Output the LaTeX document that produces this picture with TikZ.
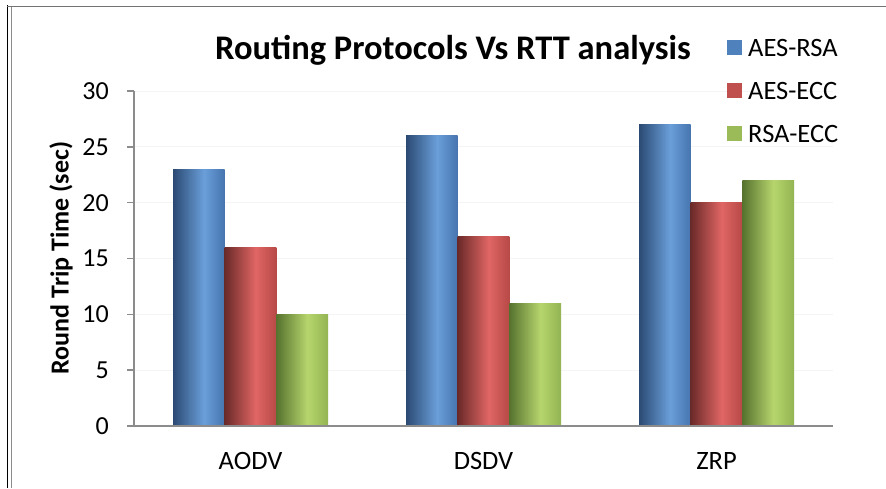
\documentclass[tikz,border=0pt]{standalone}
\usepackage{fontspec}
\setmainfont{Carlito}
\definecolor{bL}{HTML}{2B4A73}
\definecolor{bM}{HTML}{6A9FDA}
\definecolor{bR}{HTML}{4674AE}
\definecolor{rL}{HTML}{6A2A29}
\definecolor{rM}{HTML}{E06664}
\definecolor{rR}{HTML}{B64946}
\definecolor{gL}{HTML}{56722E}
\definecolor{gM}{HTML}{B6D56D}
\definecolor{gR}{HTML}{93B452}
\definecolor{bK}{HTML}{4F81BD}
\definecolor{rK}{HTML}{C0504D}
\definecolor{gK}{HTML}{9BBB59}
\definecolor{axisgray}{HTML}{8C8C8C}
\pgfdeclarehorizontalshading{blueshade}{100bp}{color(0bp)=(bL); color(25bp)=(bL); color(55bp)=(bM); color(75bp)=(bR); color(100bp)=(bR)}
\pgfdeclarehorizontalshading{redshade}{100bp}{color(0bp)=(rL); color(25bp)=(rL); color(55bp)=(rM); color(75bp)=(rR); color(100bp)=(rR)}
\pgfdeclarehorizontalshading{greenshade}{100bp}{color(0bp)=(gL); color(25bp)=(gL); color(55bp)=(gM); color(75bp)=(gR); color(100bp)=(gR)}
\tikzset{
  ticklab/.style={anchor=east, font=\fontsize{26}{26}\selectfont, inner sep=0pt},
  catlab/.style={anchor=center, font=\fontsize{26.5}{26.5}\selectfont, inner sep=0pt},
  leglab/.style={anchor=west, font=\fontsize{26.5}{26.5}\selectfont, inner sep=0pt},
  gridline/.style={draw=black!4, line width=0.8pt},
  axisline/.style={draw=axisgray, line width=2pt},
  barA/.style={shading=blueshade},
  barB/.style={shading=redshade},
  barC/.style={shading=greenshade},
}
\begin{document}
\begin{tikzpicture}[x=1pt,y=-1pt]
\useasboundingbox (0,0) rectangle (886,488);
\fill[white] (0,0) rectangle (886,488);
% frame
\draw[black, line width=1.8pt] (7.5,5) -- (7.5,488);
\draw[axisgray, line width=1pt] (11.5,6.5) -- (11.5,488);
\draw[black!55, line width=1.2pt] (7,6.3) -- (886,6.3);
% gridlines
\foreach \v in {5,10,...,30} {
  \draw[gridline] (134,{426-\v*11.1667}) -- (833,{426-\v*11.1667});
}
% bars  (zero at y=426, 11.1667 px per unit)
\foreach \cx/\a/\b/\c [count=\i] in {250.5/23/16/10, 483.5/26/17/11, 716.5/27/20/22} {
  \shade[barA] ({\cx-77.5},426) rectangle ({\cx-25.8},{426-\a*11.1667});
  \shade[barB] ({\cx-25.8},426) rectangle ({\cx+25.8},{426-\b*11.1667});
  \shade[barC] ({\cx+25.8},426) rectangle ({\cx+77.5},{426-\c*11.1667});
}
% axes
\coordinate (o) at (134,426);
\coordinate (ytop) at (134,91);
\coordinate (xend) at (833,426);
\draw[axisline] (ytop) -- (o) -- (xend);
\foreach \v in {0,5,...,30} {
  \draw[axisgray, line width=1.6pt] (127,{426-\v*11.1667}) -- (134,{426-\v*11.1667});
  \node[ticklab] (t\v) at (109,{426-\v*11.1667}) {\v};
}
% category labels
\node[catlab] (c1) at (250.5,461) {AODV};
\node[catlab] (c2) at (483.5,461) {DSDV};
\node[catlab] (c3) at (716.5,461) {ZRP};
% y label
\node[rotate=90, font=\bfseries\fontsize{26}{26}\selectfont, inner sep=0pt] (ylab) at (61,258) {Round Trip Time (sec)};
% title
\node[font=\bfseries\fontsize{34.5}{34.5}\selectfont, inner sep=0pt] (title) at (453,50) {Routing Protocols Vs RTT analysis};
% legend
\fill[bK] (727,40) rectangle (742,55);
\fill[rK] (727,83) rectangle (742,98);
\fill[gK] (727,126) rectangle (742,141);
\node[leglab] (l1) at (748,47.5) {AES-RSA};
\node[leglab] (l2) at (748,90.5) {AES-ECC};
\node[leglab] (l3) at (748,133.5) {RSA-ECC};
\end{tikzpicture}
\end{document}
